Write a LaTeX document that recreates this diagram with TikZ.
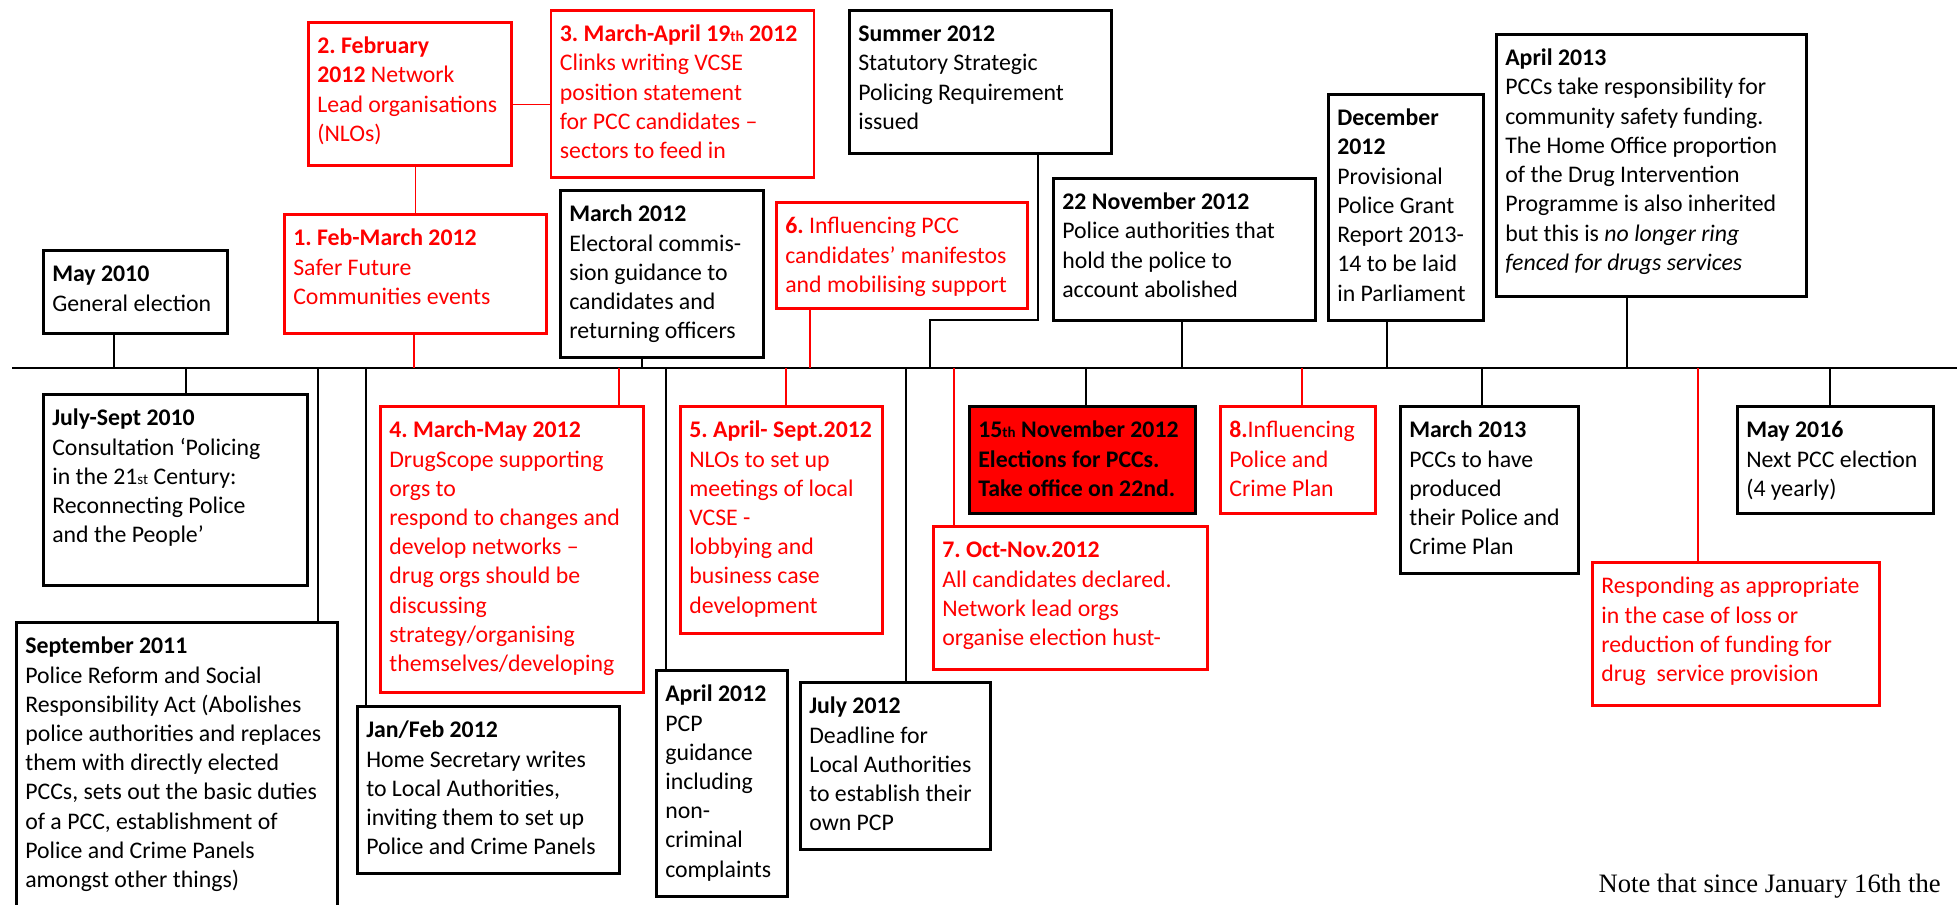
\documentclass[tikz,border=0pt]{standalone}
\usepackage{fontspec}
\setmainfont{Carlito}
\newfontfamily\notefont{Liberation Serif}
\usetikzlibrary{positioning}
\frenchspacing
\newcommand{\smsuf}[1]{{\fontsize{7.5pt}{8pt}\selectfont #1}}

\begin{document}
\begin{tikzpicture}[x=0.5pt,y=-0.5pt,semithick,
                    font=\fontsize{11.9pt}{14.6pt}\selectfont]
      \tikzstyle{blk}=[draw=black,line width=1.3pt,anchor=north west,align=flush left,
                       inner xsep=4.5pt,inner ysep=0pt,text height=15.75pt]
      \tikzstyle{rd}=[blk,draw=red,text=red]
      \tikzstyle{conn}=[line width=0.6pt]

      \useasboundingbox (0,0) rectangle (1957,904);

      % the time line
      \coordinate (tl0) at (12,368);
      \coordinate (tl1) at (1957,368);
      \draw[line width=0.8pt] (tl0) -- (tl1);

      % above the line
      \node[blk,text width=83pt,text depth=25.75pt]     (may10)  at (42,249)   {\textbf{May 2010}\\General election};
      \node[rd,text width=92.5pt,text depth=55.75pt]    (NLO)    at (307,21)   {\textbf{2. February}\\\textbf{2012} Network\\Lead organisations\\(NLOs)};
      \node[rd,text width=122.5pt,text depth=67.75pt]   (clinks) [right=18.5pt of NLO] {\textbf{3. March-April 19\smsuf{th} 2012}\\Clinks writing VCSE\\position statement\\for PCC candidates –\\sectors to feed in};
      \node[rd,text width=122pt,text depth=43.75pt]     (feb12)  at (283,213)  {\textbf{1. Feb-March 2012}\\Safer Future\\Communities events};
      \node[blk,text width=92.5pt,text depth=67.75pt]   (mar12)  at (559,189)  {\textbf{March 2012}\\Electoral commis-\\sion guidance to\\candidates and\\returning officers};
      \node[rd,text width=116.5pt,text depth=37.25pt]   (manif)  at (775,201)  {\textbf{6.} Influencing PCC\\candidates’ manifestos\\and mobilising support};
      \node[blk,text width=122pt,text depth=55.75pt]    (summer) at (848,9)    {\textbf{Summer 2012}\\Statutory Strategic\\Policing Requirement\\issued};
      \node[blk,text width=122pt,text depth=55.25pt]    (nov22)  at (1052,177) {\textbf{22 November 2012}\\Police authorities that\\hold the police to\\account abolished};
      \node[blk,text width=68.5pt,text depth=97.25pt]   (dec12)  at (1327,93)  {\textbf{December}\\\textbf{2012}\\Provisional\\Police Grant\\Report 2013-\\14 to be laid\\in Parliament};
      \node[blk,text width=146pt,text depth=115.25pt]   (apr13)  at (1495,33)  {\textbf{April 2013}\\PCCs take responsibility for\\community safety funding.\\The Home Office proportion\\of the Drug Intervention\\Programme is also inherited\\but this is \textit{no longer ring}\\\textit{fenced for drugs services}};

      % below the line
      \node[blk,text width=123pt,text depth=79.75pt]    (jul10)  at (42,393)   {\textbf{July-Sept 2010}\\Consultation ‘Policing\\in the 21\smsuf{st} Century:\\Reconnecting Police\\and the People’};
      \node[blk,text width=151.5pt,text depth=138.75pt] (sep11)  at (15,621)   {\textbf{September 2011}\\Police Reform and Social\\Responsibility Act (Abolishes\\police authorities and replaces\\them with directly elected\\PCCs, sets out the basic duties\\of a PCC, establishment of\\Police and Crime Panels\\amongst other things)};
      \node[blk,text width=122pt,text depth=67.75pt]    (janfeb) at (356,705)  {\textbf{Jan/Feb 2012}\\Home Secretary writes\\to Local Authorities,\\inviting them to set up\\Police and Crime Panels};
      \node[rd,text width=122.5pt,text depth=127.25pt]  (scope)  at (379,405)  {\textbf{4. March-May 2012}\\DrugScope supporting\\orgs to\\respond to changes and\\develop networks –\\drug orgs should be\\discussing\\strategy/organising\\themselves/developing};
      \node[blk,text width=56.5pt,text depth=97.25pt]   (apr12)  at (655,669)  {\textbf{April 2012}\\PCP\\guidance\\including\\non-\\criminal\\complaints};
      \node[rd,text width=92pt,text depth=97.75pt]      (meet)   at (679,405)  {\textbf{5. April- Sept.2012}\\NLOs to set up\\meetings of local\\VCSE -\\lobbying and\\business case\\development};
      \node[blk,text width=86pt,text depth=67.75pt]     (jul12)  at (799,681)  {\textbf{July 2012}\\Deadline for\\Local Authorities\\to establish their\\own PCP};
      \node[blk,fill=red,text width=104pt,text depth=37.75pt] (elect) at (968,405) {\textbf{15\smsuf{th} November 2012}\\\textbf{Elections for PCCs.}\\\textbf{Take office on 22nd.}};
      \node[rd,text width=128pt,text depth=55.75pt]     (hust)   at (932,525)  {\textbf{7. Oct-Nov.2012}\\All candidates declared.\\Network lead orgs\\organise election hust-};
      \node[rd,text width=68.5pt,text depth=37.75pt]    (plan)   at (1219,405) {\textbf{8.}Influencing\\Police and\\Crime Plan};
      \node[blk,text width=80pt,text depth=67.75pt]     (mar13)  at (1399,405) {\textbf{March 2013}\\PCCs to have\\produced\\their Police and\\Crime Plan};
      \node[rd,text width=134.5pt,text depth=55.75pt]   (resp)   at (1591,561) {Responding as appropriate\\in the case of loss or\\reduction of funding for\\drug~ service provision};
      \node[blk,text width=89pt,text depth=37.75pt]     (may16)  at (1736,405) {\textbf{May 2016}\\Next PCC election\\(4 yearly)};

      \node[font=\notefont\fontsize{13.3pt}{16pt}\selectfont,anchor=base west,inner sep=0pt]
            (note) at (1598,892) {Note that since January 16th the};

      % where the boxes meet the line
      \coordinate (tMay10)  at (114,368);
      \coordinate (tFeb12)  at (414,368);
      \coordinate (tMar12)  at (642,368);
      \coordinate (tManif)  at (810,368);
      \coordinate (tSummer) at (930,368);
      \coordinate (kSummer) at (1038,320);
      \coordinate (tNov22)  at (1182,368);
      \coordinate (tDec12)  at (1387,368);
      \coordinate (tApr13)  at (1627,368);
      \coordinate (tJul10)  at (186,368);
      \coordinate (tSep11)  at (318,368);
      \coordinate (tJanFeb) at (366,368);
      \coordinate (tScope)  at (619,368);
      \coordinate (tApr12)  at (666,368);
      \coordinate (tMeet)   at (786,368);
      \coordinate (tJul12)  at (906,368);
      \coordinate (tHust)   at (954,368);
      \coordinate (tElect)  at (1086,368);
      \coordinate (tPlan)   at (1302,368);
      \coordinate (tMar13)  at (1482,368);
      \coordinate (tResp)   at (1698,368);
      \coordinate (tMay16)  at (1830,368);

      \path[conn] (tMay10)  edge               (tMay10 |- may10.south)
                  (tFeb12)  edge[red]          (tFeb12 |- feb12.south)
                  (feb12.north) edge[red]      (feb12.north |- NLO.south)
                  ([yshift=-5.5pt]NLO.east) edge[red] ([yshift=-5.5pt]NLO.east -| clinks.west)
                  (tMar12)  edge               (tMar12 |- mar12.south)
                  (tManif)  edge[red]          (tManif |- manif.south)
                  (tNov22)  edge               (tNov22 |- nov22.south)
                  (tDec12)  edge               (tDec12 |- dec12.south)
                  (tApr13)  edge               (tApr13 |- apr13.south)
                  (tJul10)  edge               (tJul10 |- jul10.north)
                  (tSep11)  edge               (tSep11 |- sep11.north)
                  (tJanFeb) edge               (tJanFeb |- janfeb.north)
                  (tScope)  edge[red]          (tScope |- scope.north)
                  (tApr12)  edge               (tApr12 |- apr12.north)
                  (tMeet)   edge[red]          (tMeet |- meet.north)
                  (tJul12)  edge               (tJul12 |- jul12.north)
                  (tHust)   edge[red]          (tHust |- hust.north)
                  (tElect)  edge               (tElect |- elect.north)
                  (tPlan)   edge[red]          (tPlan |- plan.north)
                  (tMar13)  edge               (tMar13 |- mar13.north)
                  (tResp)   edge[red]          (tResp |- resp.north)
                  (tMay16)  edge               (tMay16 |- may16.north);
      \draw[conn] (tSummer) |- (kSummer) -- (kSummer |- summer.south);
\end{tikzpicture}
\end{document}
